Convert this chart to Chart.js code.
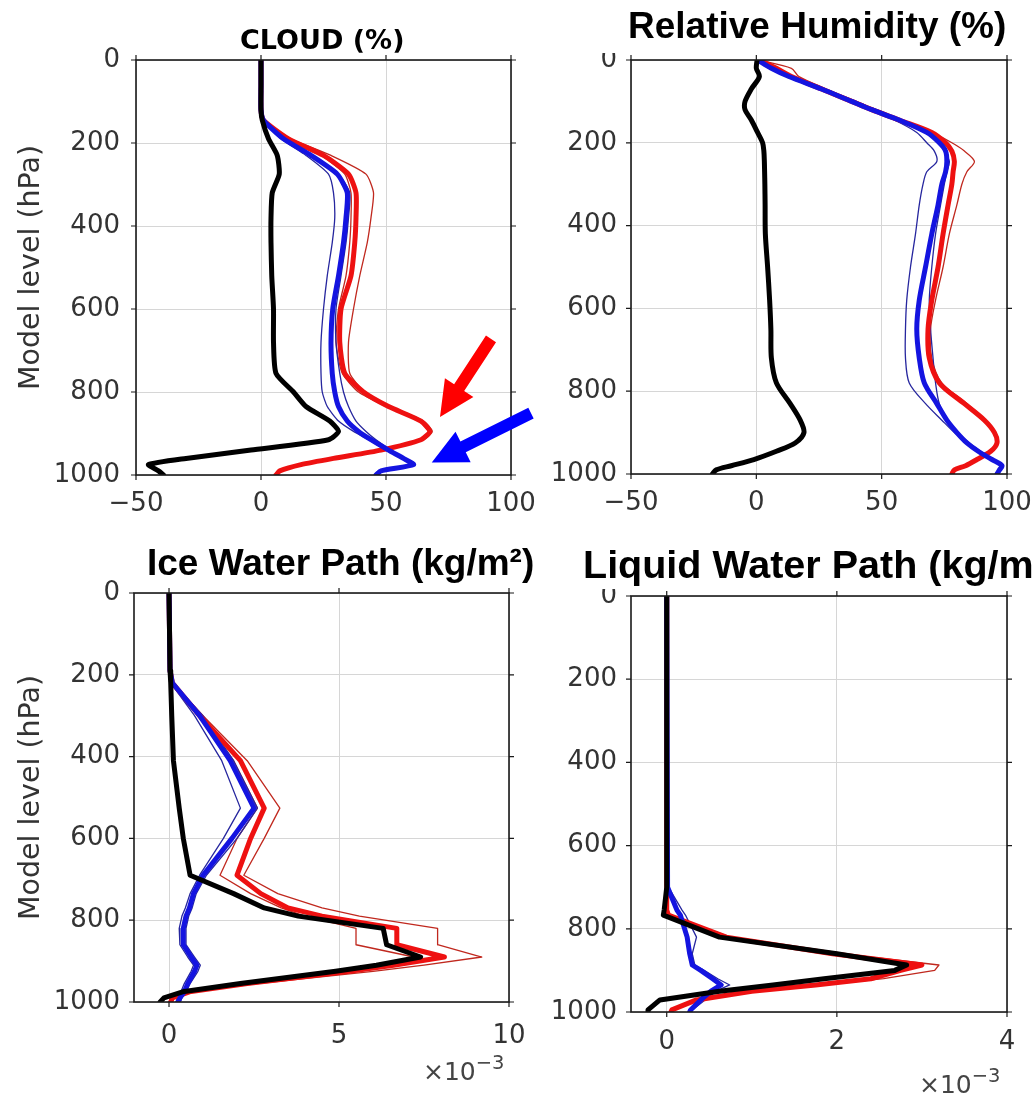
<!DOCTYPE html>
<html>
<head>
<meta charset="utf-8">
<title>Model level profiles</title>
<script src="https://cdn.jsdelivr.net/npm/chart.js@4.4.1/dist/chart.umd.min.js"></script>
<style>
  html, body { margin: 0; padding: 0; background: #fff; }
  #wrap { position: relative; width: 1033px; height: 1099px; overflow: hidden; background: #fff; }
  canvas { position: absolute; }
  .ttl { position: absolute; z-index: 3; white-space: nowrap; line-height: 1; color: #000;
         font-family: 'Liberation Sans', Arial, sans-serif; font-weight: bold; }
  .mask { position: absolute; z-index: 2; background: #fff; }
  .mult { position: absolute; z-index: 3; font-family: 'DejaVu Sans', sans-serif; font-size: 25px;
          color: #444; line-height: 1; white-space: nowrap; }
  .mult sup { font-size: 0.78em; vertical-align: 0.55em; line-height: 0; }
</style>
</head>
<body>
<div id="wrap">
  <canvas id="c-cloud" width="545" height="500" style="left:0;top:42px"></canvas>
  <canvas id="c-rh" width="493" height="500" style="left:540px;top:42px"></canvas>
  <canvas id="c-iwp" width="540" height="524" style="left:0;top:575px"></canvas>
  <canvas id="c-lwp" width="493" height="521" style="left:540px;top:578px"></canvas>

  <div class="mask" style="left:588px;top:36px;width:40px;height:17px"></div>
  <div class="mask" style="left:588px;top:572px;width:40px;height:17px"></div>

  <div class="ttl" style="left:240px;top:26px;font-family:'DejaVu Sans',sans-serif;font-size:27px">CLOUD (%)</div>
  <div class="ttl" style="left:628px;top:7px;font-size:37px">Relative Humidity (%)</div>
  <div class="ttl" style="left:147px;top:544px;font-size:37px">Ice Water Path (kg/m²)</div>
  <div class="ttl" style="left:583px;top:545px;font-size:39.5px">Liquid Water Path (kg/m²)</div>

  <div class="mult" style="left:423px;top:1059px">×10<sup>−3</sup></div>
  <div class="mult" style="left:919px;top:1072px">×10<sup>−3</sup></div>
</div>

<script>
// ── DATA ────────────────────────────────────────────────────
// pressure levels (hPa) and profiles; black = reference, thick = ensemble mean, thin = members
const yTicks = [0, 200, 400, 600, 800, 1000];

// CLOUD (%)
const cloudXTicks = [-50, 0, 50, 100];
const cloudLevels = [0, 60, 120, 145, 190, 230, 275, 320, 380, 440, 520, 600, 680, 755, 800, 835, 870, 895, 915, 940, 960, 975, 990, 1000];
const cloudBlack  = [0, 0, 0, 0.5, 3, 6.5, 7.3, 4.5, 4, 4, 4.3, 5, 5, 6, 13, 18, 27.5, 31, 27, -4, -30, -45, -41, -39];
const cloudRed    = [0, 0, 0, 1, 11, 25, 35, 38, 38, 37.5, 36, 32, 31.5, 33.5, 41, 51, 64, 67.5, 64, 48, 29, 16, 7.5, 6];
const cloudRed1   = [0, 0, 0, 1, 12, 28, 42, 45, 44, 42.5, 39.5, 37, 35, 35.5, 41.5, 52, 65, 68.5, 65, 49, 30, 17, 8, 6.5];
const cloudRed2   = [0, 0, 0, 1, 10, 24, 33.5, 36, 36, 35.5, 34, 31, 30, 32.5, 39, 50, 63, 67, 63.5, 47.5, 28.5, 15.5, 7, 5.5];
const cloudBlue   = [0, 0, 0, 1, 9, 20, 30.5, 34.5, 34, 33, 31, 28.7, 28, 28.5, 29.5, 31, 34.5, 39, 44, 51, 57, 61, 48, 46];
const cloudBlue1  = [0, 0, 0, 1, 8, 18, 27, 29, 29.5, 28.5, 26.5, 25, 24, 24, 24.5, 26.5, 31, 37, 43, 50, 56, 60, 47, 45.5];
const cloudBlue2  = [0, 0, 0, 1, 9.5, 21, 31, 35.5, 35, 34, 32, 30, 30, 31.5, 33, 35, 38, 42, 46, 52, 57.5, 61.5, 48, 46.5];

// Relative Humidity (%)
const rhXTicks = [-50, 0, 50, 100];
const rhLevels = [0, 20, 40, 70, 100, 120, 145, 175, 200, 220, 245, 270, 300, 350, 420, 500, 580, 650, 720, 780, 830, 870, 900, 925, 945, 965, 980, 990, 1000];
const rhBlack  = [0.3, 0, 1.2, -2, -4.5, -4.5, -2, 0.5, 2.5, 3, 3.2, 3.3, 3.4, 3.5, 3.6, 4.5, 5.3, 5.8, 6, 8, 13.5, 17.5, 19, 15.5, 8, -1, -10, -16, -17.5];
const rhRed    = [1, 8, 14, 26, 38, 46, 57, 70, 75.5, 78, 79, 78.5, 78, 76.5, 74.5, 72.5, 70, 68.5, 69, 73, 83, 91, 95, 96, 93.5, 88, 83.5, 79, 78];
const rhRed1   = [1, 14, 17, 28, 40, 48, 58, 70, 78, 83, 87, 84, 82, 80, 77, 74.5, 71.5, 69.5, 70, 74, 84, 91.5, 95.5, 96.5, 94, 88.5, 84, 79.5, 78.5];
const rhBlue   = [0.5, 6, 13, 26, 38, 46, 57, 68, 73, 75.5, 76, 75.5, 74, 72.5, 70, 67.5, 65, 64, 65, 67, 72, 76, 80, 84, 88.5, 94, 98, 97, 96];
const rhBlue1  = [0.5, 5, 12, 25, 37, 45, 55, 64, 68, 71, 72, 68, 66.5, 65, 63.5, 61.5, 60, 59.5, 59.5, 61, 67.5, 74, 79, 84, 89, 94, 97.5, 96.5, 95.5];
const rhBlue2  = [0.5, 6, 13, 26, 38, 46, 57, 68, 73, 75, 77, 76, 75, 73.5, 71.5, 70, 69, 69.5, 70.5, 71.5, 73, 76.5, 80.5, 85, 89.5, 94.5, 98, 97, 96];

// Ice Water Path (x10^-3 kg/m2)
const iwpXTicks = [0, 5, 10];
const iwpLevels = [0, 190, 220, 300, 410, 526, 600, 690, 735, 770, 790, 820, 860, 890, 910, 925, 955, 975, 990, 1000];
const iwpBlack  = [0, 0.03, 0.05, 0.08, 0.13, 0.3, 0.42, 0.62, 1.9, 2.8, 3.8, 6.3, 6.4, 7.4, 6.1, 4.9, 2.1, 0.4, -0.15, -0.26];
const iwpRed    = [0, 0.03, 0.1, 0.9, 2.1, 2.8, 2.4, 2.0, 2.7, 3.5, 4.5, 6.7, 6.7, 8.1, 6.6, 5.3, 2.3, 0.6, 0.1, 0.05];
const iwpRed1   = [0, 0.03, 0.1, 1.0, 2.3, 3.26, 2.8, 2.2, 3.2, 4.5, 5.6, 7.9, 7.9, 9.2, 7.5, 6.0, 2.6, 0.7, 0.15, 0.1];
const iwpRed2   = [0, 0.03, 0.05, 0.85, 1.9, 2.6, 2.0, 1.5, 2.4, 3.3, 4.0, 5.5, 5.5, 7.2, 6.0, 4.9, 2.1, 0.5, 0.05, 0];
const iwpBlue   = [0, 0.03, 0.1, 0.9, 1.8, 2.5, 1.85, 1.0, 0.72, 0.6, 0.5, 0.42, 0.42, 0.65, 0.82, 0.75, 0.55, 0.45, 0.32, 0.27];
const iwpBlue1  = [0, 0.03, 0.05, 0.75, 1.55, 2.1, 1.6, 0.9, 0.62, 0.48, 0.38, 0.3, 0.32, 0.55, 0.72, 0.65, 0.45, 0.35, 0.25, 0.2];
const iwpBlue2  = [0, 0.03, 0.12, 1.0, 1.9, 2.6, 2.0, 1.1, 0.8, 0.68, 0.58, 0.5, 0.5, 0.75, 0.92, 0.85, 0.62, 0.5, 0.38, 0.33];

// Liquid Water Path (x10^-3 kg/m2)
const lwpXTicks = [0, 2, 4];
const lwpLevels = [0, 700, 755, 767, 820, 860, 887, 900, 920, 935, 950, 971, 995, 1000];
const lwpBlack  = [0, 0, -0.03, -0.04, 0.62, 2.0, 2.82, 2.68, 1.85, 1.25, 0.62, -0.08, -0.22, -0.22];
const lwpRed    = [0, 0, 0, 0.02, 0.7, 1.95, 3.0, 2.75, 2.4, 1.75, 1.0, 0.35, 0.06, 0.05];
const lwpRed1   = [0, 0, 0, 0.03, 0.75, 2.05, 3.2, 3.15, 2.55, 1.85, 1.05, 0.38, 0.08, 0.06];
const lwpBlue   = [0, 0.01, 0.12, 0.16, 0.24, 0.27, 0.3, 0.4, 0.54, 0.64, 0.52, 0.4, 0.28, 0.27];
const lwpBlue1  = [0, 0.02, 0.18, 0.22, 0.35, 0.3, 0.33, 0.44, 0.6, 0.74, 0.58, 0.45, 0.3, 0.29];

// ── STYLE ───────────────────────────────────────────────────
const BLACK = { color: '#000000', width: 5 };
const RED   = { color: '#ee1111', width: 5 };
const BLUE  = { color: '#1414e0', width: 5 };
const RED_T = { color: '#c0281e', width: 1.3 };
const BLUE_T = { color: '#26269e', width: 1.3 };
const TICK_FONT = { family: 'DejaVu Sans', size: 26 };

const $ = id => document.getElementById(id);
const fmt = v => (v < 0 ? '\u2212' + Math.abs(v) : String(v));

// box round the plot with little outward ticks on all four sides
const frame = {
  id: 'frame',
  afterDraw(chart) {
    const { ctx, chartArea: a, scales: { x, y } } = chart;
    ctx.save();
    ctx.strokeStyle = '#1a1a1a';
    ctx.lineWidth = 1.6;
    ctx.strokeRect(a.left, a.top, a.right - a.left, a.bottom - a.top);
    ctx.lineWidth = 1.2;
    ctx.beginPath();
    x.ticks.forEach(t => {
      const px = x.getPixelForValue(t.value);
      ctx.moveTo(px, a.top); ctx.lineTo(px, a.top - 5);
      ctx.moveTo(px, a.bottom); ctx.lineTo(px, a.bottom + 5);
    });
    y.ticks.forEach(t => {
      const py = y.getPixelForValue(t.value);
      ctx.moveTo(a.left, py); ctx.lineTo(a.left - 5, py);
      ctx.moveTo(a.right, py); ctx.lineTo(a.right + 5, py);
    });
    ctx.stroke();
    ctx.restore();
  }
};

// ── ARROWS (cloud panel) ────────────────────────────────────
// [x %, level hPa] of tail and tip
const cloudArrows = [
  { color: '#ff0000', from: [92, 672], to: [71.6, 860] },
  { color: '#0000ff', from: [108, 851], to: [68.3, 970] }
];

function drawArrow(ctx, x0, y0, x1, y1, color) {
  const shaft = 12, headW = 34, headL = 35;
  const len = Math.hypot(x1 - x0, y1 - y0);
  ctx.save();
  ctx.translate(x0, y0);
  ctx.rotate(Math.atan2(y1 - y0, x1 - x0));
  ctx.fillStyle = color;
  ctx.beginPath();
  ctx.moveTo(0, -shaft / 2);
  ctx.lineTo(len - headL, -shaft / 2);
  ctx.lineTo(len - headL, -headW / 2);
  ctx.lineTo(len, 0);
  ctx.lineTo(len - headL, headW / 2);
  ctx.lineTo(len - headL, shaft / 2);
  ctx.lineTo(0, shaft / 2);
  ctx.closePath();
  ctx.fill();
  ctx.restore();
}

const arrows = {
  id: 'arrows',
  afterDraw(chart) {
    const { ctx, scales: { x, y } } = chart;
    cloudArrows.forEach(a => drawArrow(ctx,
      x.getPixelForValue(a.from[0]), y.getPixelForValue(a.from[1]),
      x.getPixelForValue(a.to[0]), y.getPixelForValue(a.to[1]), a.color));
  }
};

// ── CHART BUILDER ───────────────────────────────────────────
function profile(id, o) {
  const datasets = o.lines.map(([vals, st]) => ({
    data: o.levels.map((p, i) => ({ x: vals[i], y: p })),
    showLine: true,
    borderColor: st.color,
    borderWidth: st.width,
    pointRadius: 0,
    tension: o.tension,
    borderJoinStyle: 'round',
    borderCapStyle: 'round'
  }));

  return new Chart($(id), {
    type: 'scatter',
    data: { datasets },
    options: {
      responsive: false,
      animation: false,
      events: [],
      layout: { padding: { top: 18, right: o.padRight, bottom: o.padBottom, left: 0 } },
      plugins: { legend: { display: false }, tooltip: { enabled: false } },
      scales: {
        x: {
          type: 'linear',
          min: o.xMin, max: o.xMax,
          afterBuildTicks: s => { s.ticks = o.xTicks.map(v => ({ value: v })); },
          // fixed axis box; label overhang is covered by the layout padding
          afterFit: s => { s.height = o.xHeight; s.paddingLeft = 0; s.paddingRight = 0; },
          grid: { color: '#d6d6d6', lineWidth: 1, drawTicks: false },
          border: { display: false },
          ticks: { font: TICK_FONT, color: '#333', padding: o.xPad, maxRotation: 0, callback: fmt }
        },
        y: {
          type: 'linear',
          reverse: true,
          min: 0, max: 1000,
          afterBuildTicks: s => { s.ticks = yTicks.map(v => ({ value: v })); },
          afterFit: s => { s.width = o.yWidth; s.paddingTop = 0; s.paddingBottom = 0; },
          grid: { color: '#d6d6d6', lineWidth: 1, drawTicks: false },
          border: { display: false },
          ticks: { font: TICK_FONT, color: '#333', padding: o.yPad, callback: fmt },
          title: {
            display: o.yTitle,
            text: 'Model level (hPa)',
            font: { family: 'DejaVu Sans', size: 28.5 },
            color: '#333',
            padding: { top: 14, bottom: 0 }
          }
        }
      }
    },
    plugins: o.extra ? [frame, o.extra] : [frame]
  });
}

// first dataset is drawn on top
profile('c-cloud', {
  levels: cloudLevels, xMin: -50, xMax: 100, xTicks: cloudXTicks, tension: 0.2,
  lines: [[cloudBlack, BLACK], [cloudBlue, BLUE], [cloudRed, RED],
          [cloudBlue1, BLUE_T], [cloudBlue2, BLUE_T], [cloudRed1, RED_T], [cloudRed2, RED_T]],
  yWidth: 136, yTitle: true, yPad: 16, xHeight: 57, xPad: 14, padRight: 34, padBottom: 10,
  extra: arrows
});

profile('c-rh', {
  levels: rhLevels, xMin: -50, xMax: 100, xTicks: rhXTicks, tension: 0.3,
  lines: [[rhBlack, BLACK], [rhBlue, BLUE], [rhRed, RED],
          [rhBlue1, BLUE_T], [rhBlue2, BLUE_T], [rhRed1, RED_T]],
  yWidth: 91, yTitle: false, yPad: 14, xHeight: 58, xPad: 14, padRight: 26, padBottom: 10
});

profile('c-iwp', {
  levels: iwpLevels, xMin: -1.03, xMax: 10, xTicks: iwpXTicks, tension: 0,
  lines: [[iwpBlack, BLACK], [iwpBlue, BLUE], [iwpRed, RED],
          [iwpBlue1, BLUE_T], [iwpBlue2, BLUE_T], [iwpRed1, RED_T], [iwpRed2, RED_T]],
  yWidth: 134, yTitle: true, yPad: 14, xHeight: 60, xPad: 19, padRight: 31, padBottom: 37
});

profile('c-lwp', {
  levels: lwpLevels, xMin: -0.42, xMax: 4, xTicks: lwpXTicks, tension: 0,
  lines: [[lwpBlack, BLACK], [lwpBlue, BLUE], [lwpRed, RED],
          [lwpBlue1, BLUE_T], [lwpRed1, RED_T]],
  yWidth: 91, yTitle: false, yPad: 14, xHeight: 60, xPad: 15, padRight: 26, padBottom: 27
});
</script>
</body>
</html>
